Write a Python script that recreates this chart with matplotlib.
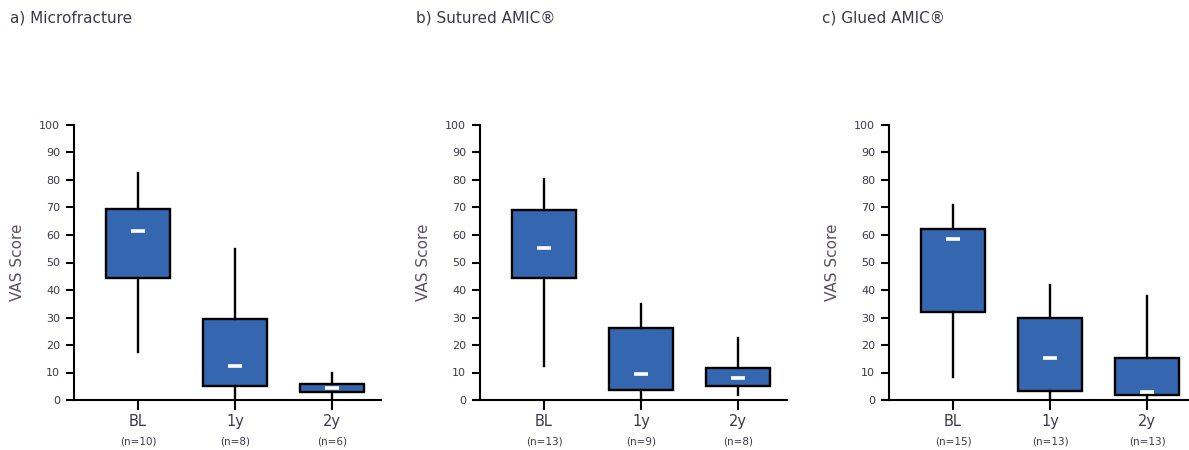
import matplotlib
matplotlib.use("Agg")
import matplotlib.pyplot as plt
from matplotlib.transforms import blended_transform_factory

# panel data: whisker low, Q1, median, Q3, whisker high
categories = ["BL", "1y", "2y"]
titles = ["a) Microfracture", "b) Sutured AMIC\u00ae", "c) Glued AMIC\u00ae"]

micro_low = [17.5, 0, 0]
micro_q1 = [44.5, 5.2, 2.8]
micro_med = [61.5, 12.5, 4.5]
micro_q3 = [69.3, 29.5, 6.0]
micro_high = [82.7, 55, 9.8]
micro_n = ["(n=10)", "(n=8)", "(n=6)"]

sutured_low = [12.5, 0, 2.0]
sutured_q1 = [44.4, 3.8, 5.2]
sutured_med = [55.4, 9.5, 7.9]
sutured_q3 = [69.2, 26.1, 11.5]
sutured_high = [80.2, 34.8, 22.4]
sutured_n = ["(n=13)", "(n=9)", "(n=8)"]

glued_low = [8.5, 0, 0]
glued_q1 = [32.0, 3.4, 1.8]
glued_med = [58.4, 15.3, 3.0]
glued_q3 = [62.3, 29.9, 15.3]
glued_high = [70.9, 41.8, 37.8]
glued_n = ["(n=15)", "(n=13)", "(n=13)"]

panels = [
    (micro_low, micro_q1, micro_med, micro_q3, micro_high, micro_n),
    (sutured_low, sutured_q1, sutured_med, sutured_q3, sutured_high, sutured_n),
    (glued_low, glued_q1, glued_med, glued_q3, glued_high, glued_n),
]

W, H = 1189, 450
fig = plt.figure(figsize=(W / 100, H / 100), dpi=100)

box_color = "#3566b0"
text_color = "#3a3a4a"
lefts_px = [74, 480, 889]
title_px = [10, 416, 822]
unit_px = 97
xlim = (0.34, 3.5)
top_px, bottom_px = 125, 400

for i, (low, q1, med, q3, high, nlab) in enumerate(panels):
    left = lefts_px[i] / W
    width = (xlim[1] - xlim[0]) * unit_px / W
    ax = fig.add_axes([left, 1 - bottom_px / H, width, (bottom_px - top_px) / H])

    stats = []
    for j in range(3):
        stats.append(dict(whislo=low[j], q1=q1[j], med=med[j], q3=q3[j],
                          whishi=high[j], fliers=[]))
    pos = [1, 2, 3]
    ax.bxp(stats, positions=pos, widths=0.66, showcaps=False, showfliers=False,
           patch_artist=True,
           boxprops=dict(facecolor=box_color, edgecolor="black", linewidth=1.7),
           whiskerprops=dict(color="black", linewidth=1.7),
           medianprops=dict(linewidth=0))
    ax.plot(pos, med, linestyle="none", marker="_", markersize=10.5,
            markeredgewidth=2.6, color="white", zorder=5)

    ax.set_xlim(*xlim)
    ax.set_ylim(0, 100)
    ax.set_yticks(range(0, 101, 10))
    ax.set_xticks(pos)
    ax.set_xticklabels(categories, fontsize=10.5, color=text_color)
    ax.tick_params(axis="y", labelsize=8, labelcolor=text_color, length=6,
                   width=1.5, pad=4)
    ax.tick_params(axis="x", length=7, width=1.5, pad=3)
    for s in ["top", "right"]:
        ax.spines[s].set_visible(False)
    for s in ["left", "bottom"]:
        ax.spines[s].set_linewidth(1.5)
    ax.set_ylabel("VAS Score", fontsize=11, color="#5a5060", labelpad=10)

    tr = blended_transform_factory(ax.transData, ax.transAxes)
    for j in range(3):
        ax.text(pos[j], -0.152, nlab[j], transform=tr, ha="center", va="center",
                fontsize=7.5, color=text_color)
    for a in ax.get_children():
        if hasattr(a, "set_clip_on"):
            a.set_clip_on(False)

    fig.text(title_px[i] / W, 1 - 18 / H, titles[i], fontsize=11,
             color=text_color, ha="left", va="center")

fig.savefig("out.png", dpi=100)
